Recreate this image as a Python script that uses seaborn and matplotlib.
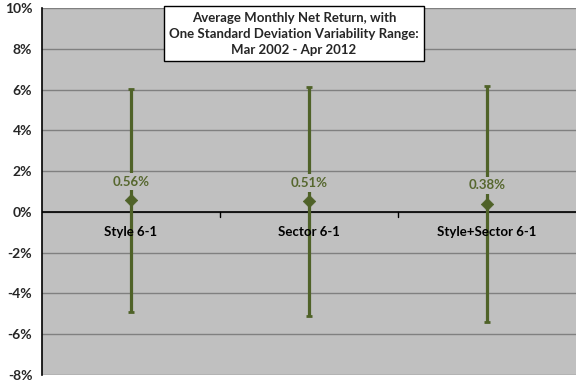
import matplotlib
matplotlib.use("Agg")
import matplotlib.pyplot as plt
import seaborn as sns
import pandas as pd

categories = ["Style 6-1", "Sector 6-1", "Style+Sector 6-1"]
mean_return = [0.56, 0.51, 0.38]
std_dev = [5.45, 5.60, 5.79]
value_labels = ["0.56%", "0.51%", "0.38%"]
y_ticks = [-8, -6, -4, -2, 0, 2, 4, 6, 8, 10]

df = pd.DataFrame({"strategy": categories, "mean": mean_return, "std": std_dev})

sns.set_style("white")
plt.rcParams["font.family"] = ["Lato", "DejaVu Sans"]
olive = "#4F6228"

fig = plt.figure(figsize=(5.76, 3.84), dpi=100)
ax = fig.add_axes([42 / 576, 9 / 384, 534 / 576, 367 / 384])
ax.set_facecolor("#C0C0C0")

ax.errorbar(range(len(df)), df["mean"], yerr=df["std"], fmt="none",
            ecolor=olive, elinewidth=2.3, capsize=2.5, capthick=2, zorder=3)
sns.scatterplot(data=df, x="strategy", y="mean", marker="D", s=40,
                color=olive, edgecolor=olive, ax=ax, zorder=4, legend=False)

for i, lab in enumerate(value_labels):
    ax.text(i, df["mean"][i] + 0.92, lab, ha="center", va="center",
            fontsize=9.5, fontweight="bold", color="#56672E", zorder=5,
            bbox=dict(facecolor="#C0C0C0", edgecolor="none", pad=2))
    ax.text(i, -0.68, categories[i], ha="center", va="top",
            fontsize=9.5, fontweight="bold", color="black", zorder=5)

ax.set_xlim(-0.5, len(categories) - 0.5)
ax.set_ylim(-8, 10)
ax.set_yticks(y_ticks)
ax.set_yticklabels([f"{t}%" for t in y_ticks], fontsize=10, fontweight="bold")
ax.set_xticks([])
ax.set_xlabel("")
ax.set_ylabel("")
ax.grid(axis="y", color="#808080", linewidth=1)
ax.set_axisbelow(True)
ax.axhline(0, color="black", linewidth=1.2, zorder=2)
for b in [0.5, 1.5]:
    ax.plot([b, b], [0, -0.25], color="black", linewidth=1, zorder=2)

for s in ["top", "right", "bottom"]:
    ax.spines[s].set_visible(False)
ax.spines["left"].set_color("black")
ax.spines["left"].set_linewidth(1.2)
ax.tick_params(axis="y", direction="out", length=4, width=1, color="black", pad=3)

ax.text(0.472, 0.99, "Average Monthly Net Return, with\nOne Standard Deviation Variability Range:\nMar 2002 - Apr 2012",
        transform=ax.transAxes, ha="center", va="top", fontsize=9.5, fontweight="bold",
        linespacing=1.4, zorder=6,
        bbox=dict(facecolor="white", edgecolor="black", linewidth=1, pad=4))

fig.savefig("out.png", dpi=100)
